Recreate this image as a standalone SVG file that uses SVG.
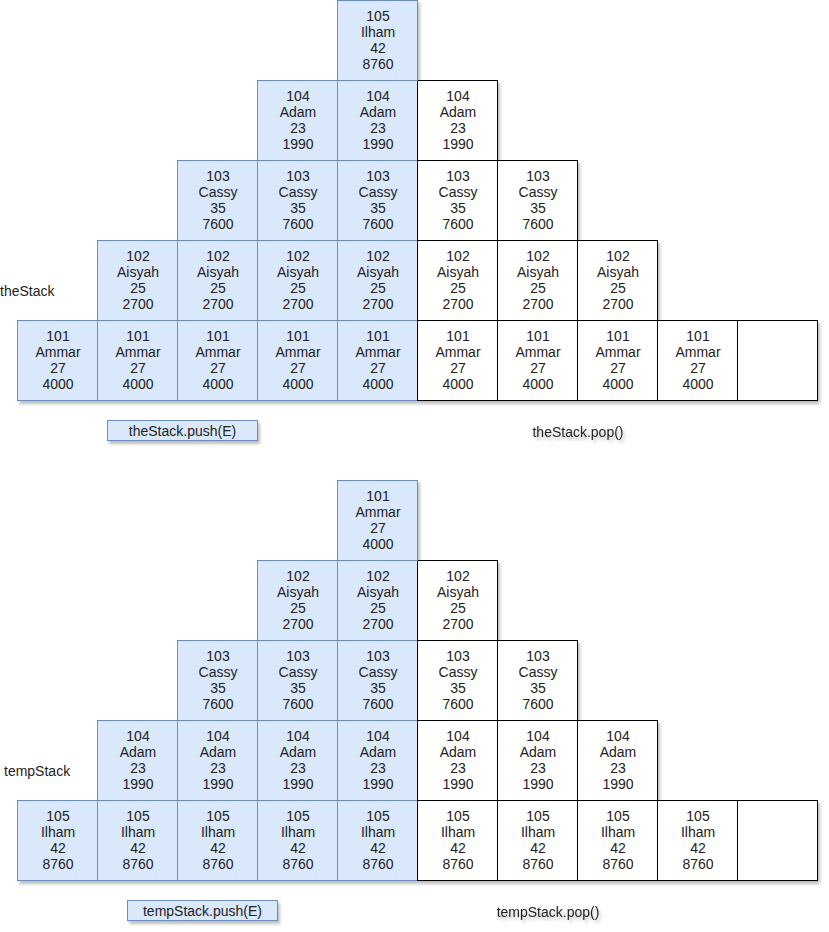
<svg xmlns="http://www.w3.org/2000/svg" width="829" height="932" viewBox="0 0 829 932">
<style>
text{font-family:"Liberation Sans",Arial,sans-serif;font-size:14px;fill:#222;text-anchor:middle}
.b{fill:#dae8fc;stroke:#6c8ebf;stroke-width:1}
.w{fill:#fff;stroke:#000;stroke-width:1}
.l{text-anchor:start}
</style>
<defs>
<filter id="sh" x="-20%" y="-20%" width="150%" height="150%"><feDropShadow dx="2" dy="3" stdDeviation="1.5" flood-color="#000" flood-opacity="0.25"/></filter>
<g id="ammar"><text x="40" y="20.8">101</text><text x="40" y="36.8">Ammar</text><text x="40" y="52.8">27</text><text x="40" y="68.8">4000</text></g>
<g id="aisyah"><text x="40" y="20.8">102</text><text x="40" y="36.8">Aisyah</text><text x="40" y="52.8">25</text><text x="40" y="68.8">2700</text></g>
<g id="cassy"><text x="40" y="20.8">103</text><text x="40" y="36.8">Cassy</text><text x="40" y="52.8">35</text><text x="40" y="68.8">7600</text></g>
<g id="adam"><text x="40" y="20.8">104</text><text x="40" y="36.8">Adam</text><text x="40" y="52.8">23</text><text x="40" y="68.8">1990</text></g>
<g id="ilham"><text x="40" y="20.8">105</text><text x="40" y="36.8">Ilham</text><text x="40" y="52.8">42</text><text x="40" y="68.8">8760</text></g>
</defs>
<g id="connectors"/>
<!-- theStack -->
<g id="theStack-cells" filter="url(#sh)">
<rect class="b" x="17.5" y="320.5" width="80" height="80"/>
<rect class="b" x="97.5" y="320.5" width="80" height="80"/>
<rect class="b" x="177.5" y="320.5" width="80" height="80"/>
<rect class="b" x="257.5" y="320.5" width="80" height="80"/>
<rect class="b" x="337.5" y="320.5" width="80" height="80"/>
<rect class="w" x="417.5" y="320.5" width="80" height="80"/>
<rect class="w" x="497.5" y="320.5" width="80" height="80"/>
<rect class="w" x="577.5" y="320.5" width="80" height="80"/>
<rect class="w" x="657.5" y="320.5" width="80" height="80"/>
<rect class="w" x="737.5" y="320.5" width="80" height="80"/>
<rect class="b" x="97.5" y="240.5" width="80" height="80"/>
<rect class="b" x="177.5" y="240.5" width="80" height="80"/>
<rect class="b" x="257.5" y="240.5" width="80" height="80"/>
<rect class="b" x="337.5" y="240.5" width="80" height="80"/>
<rect class="w" x="417.5" y="240.5" width="80" height="80"/>
<rect class="w" x="497.5" y="240.5" width="80" height="80"/>
<rect class="w" x="577.5" y="240.5" width="80" height="80"/>
<rect class="b" x="177.5" y="160.5" width="80" height="80"/>
<rect class="b" x="257.5" y="160.5" width="80" height="80"/>
<rect class="b" x="337.5" y="160.5" width="80" height="80"/>
<rect class="w" x="417.5" y="160.5" width="80" height="80"/>
<rect class="w" x="497.5" y="160.5" width="80" height="80"/>
<rect class="b" x="257.5" y="80.5" width="80" height="80"/>
<rect class="b" x="337.5" y="80.5" width="80" height="80"/>
<rect class="w" x="417.5" y="80.5" width="80" height="80"/>
<rect class="b" x="337.5" y="0.5" width="80" height="80"/>
</g>
<g id="theStack-text">
<use href="#ammar" x="18" y="320"/><use href="#ammar" x="98" y="320"/><use href="#ammar" x="178" y="320"/><use href="#ammar" x="258" y="320"/><use href="#ammar" x="338" y="320"/><use href="#ammar" x="418" y="320"/><use href="#ammar" x="498" y="320"/><use href="#ammar" x="578" y="320"/><use href="#ammar" x="658" y="320"/>
<use href="#aisyah" x="98" y="240"/><use href="#aisyah" x="178" y="240"/><use href="#aisyah" x="258" y="240"/><use href="#aisyah" x="338" y="240"/><use href="#aisyah" x="418" y="240"/><use href="#aisyah" x="498" y="240"/><use href="#aisyah" x="578" y="240"/>
<use href="#cassy" x="178" y="160"/><use href="#cassy" x="258" y="160"/><use href="#cassy" x="338" y="160"/><use href="#cassy" x="418" y="160"/><use href="#cassy" x="498" y="160"/>
<use href="#adam" x="258" y="80"/><use href="#adam" x="338" y="80"/><use href="#adam" x="418" y="80"/>
<use href="#ilham" x="338" y="0"/>
</g>
<g id="theStack-label"><text class="l" x="0" y="296">theStack</text></g>
<g id="theStack-push"><rect class="b" x="107.5" y="420.5" width="150" height="20" filter="url(#sh)"/><text x="182.5" y="436">theStack.push(E)</text></g>
<g id="theStack-pop" filter="url(#sh)"><text x="578" y="437">theStack.pop()</text></g>
<!-- tempStack -->
<g id="tempStack-cells" filter="url(#sh)">
<rect class="b" x="17.5" y="800.5" width="80" height="80"/>
<rect class="b" x="97.5" y="800.5" width="80" height="80"/>
<rect class="b" x="177.5" y="800.5" width="80" height="80"/>
<rect class="b" x="257.5" y="800.5" width="80" height="80"/>
<rect class="b" x="337.5" y="800.5" width="80" height="80"/>
<rect class="w" x="417.5" y="800.5" width="80" height="80"/>
<rect class="w" x="497.5" y="800.5" width="80" height="80"/>
<rect class="w" x="577.5" y="800.5" width="80" height="80"/>
<rect class="w" x="657.5" y="800.5" width="80" height="80"/>
<rect class="w" x="737.5" y="800.5" width="80" height="80"/>
<rect class="b" x="97.5" y="720.5" width="80" height="80"/>
<rect class="b" x="177.5" y="720.5" width="80" height="80"/>
<rect class="b" x="257.5" y="720.5" width="80" height="80"/>
<rect class="b" x="337.5" y="720.5" width="80" height="80"/>
<rect class="w" x="417.5" y="720.5" width="80" height="80"/>
<rect class="w" x="497.5" y="720.5" width="80" height="80"/>
<rect class="w" x="577.5" y="720.5" width="80" height="80"/>
<rect class="b" x="177.5" y="640.5" width="80" height="80"/>
<rect class="b" x="257.5" y="640.5" width="80" height="80"/>
<rect class="b" x="337.5" y="640.5" width="80" height="80"/>
<rect class="w" x="417.5" y="640.5" width="80" height="80"/>
<rect class="w" x="497.5" y="640.5" width="80" height="80"/>
<rect class="b" x="257.5" y="560.5" width="80" height="80"/>
<rect class="b" x="337.5" y="560.5" width="80" height="80"/>
<rect class="w" x="417.5" y="560.5" width="80" height="80"/>
<rect class="b" x="337.5" y="480.5" width="80" height="80"/>
</g>
<g id="tempStack-text">
<use href="#ilham" x="18" y="800"/><use href="#ilham" x="98" y="800"/><use href="#ilham" x="178" y="800"/><use href="#ilham" x="258" y="800"/><use href="#ilham" x="338" y="800"/><use href="#ilham" x="418" y="800"/><use href="#ilham" x="498" y="800"/><use href="#ilham" x="578" y="800"/><use href="#ilham" x="658" y="800"/>
<use href="#adam" x="98" y="720"/><use href="#adam" x="178" y="720"/><use href="#adam" x="258" y="720"/><use href="#adam" x="338" y="720"/><use href="#adam" x="418" y="720"/><use href="#adam" x="498" y="720"/><use href="#adam" x="578" y="720"/>
<use href="#cassy" x="178" y="640"/><use href="#cassy" x="258" y="640"/><use href="#cassy" x="338" y="640"/><use href="#cassy" x="418" y="640"/><use href="#cassy" x="498" y="640"/>
<use href="#aisyah" x="258" y="560"/><use href="#aisyah" x="338" y="560"/><use href="#aisyah" x="418" y="560"/>
<use href="#ammar" x="338" y="480"/>
</g>
<g id="tempStack-label"><text class="l" x="4" y="776">tempStack</text></g>
<g id="tempStack-push"><rect class="b" x="127.5" y="900.5" width="150" height="20" filter="url(#sh)"/><text x="202.5" y="916">tempStack.push(E)</text></g>
<g id="tempStack-pop" filter="url(#sh)"><text x="548" y="917">tempStack.pop()</text></g>
</svg>
